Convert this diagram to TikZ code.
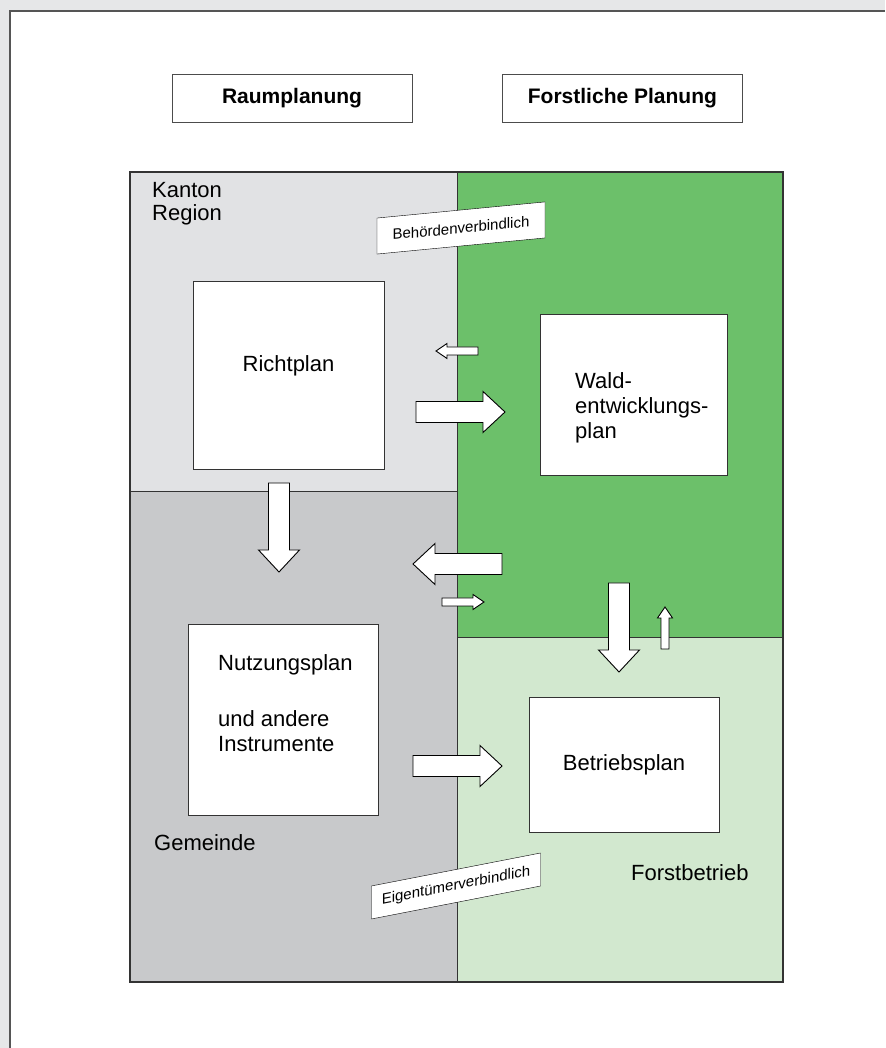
\documentclass[tikz,border=0pt]{standalone}
\usepackage{fontspec}
\setmainfont{Liberation Sans}
\usetikzlibrary{positioning}
\definecolor{cframe}{RGB}{230,231,232}
\definecolor{cline}{RGB}{85,85,85}
\definecolor{ckanton}{RGB}{225,226,228}
\definecolor{cgemeinde}{RGB}{200,201,203}
\definecolor{cwald}{RGB}{108,192,106}
\definecolor{cbetrieb}{RGB}{210,232,207}

\begin{document}
\begin{tikzpicture}[x=1pt,y=1pt,
  title/.style={draw=black!70,fill=white,minimum width=240pt,minimum height=48pt,font=\fontsize{21}{25}\selectfont\bfseries},
  plan/.style={draw=black!80,fill=white,inner sep=0pt},
  txt/.style={font=\fontsize{22}{25}\selectfont,align=left,inner sep=0pt},
  tag/.style={draw=black,fill=white,font=\fontsize{15}{18}\selectfont,inner sep=0pt},
  blk/.style={draw=black,fill=white,line width=0.9pt,line join=miter},
  pics/bigarrow/.style={code={\draw[blk] (0,-10.5) -- (67,-10.5) -- (67,-20.5) -- (89,0) -- (67,20.5) -- (67,10.5) -- (0,10.5) -- cycle;}},
  pics/smallarrow/.style={code={\draw[blk] (0,-4) -- (31,-4) -- (31,-7.5) -- (42,0) -- (31,7.5) -- (31,4) -- (0,4) -- cycle;}},
]
\useasboundingbox (0,0) rectangle (885,1048);
% frame
\fill[cframe] (0,0) rectangle (885,1048);
\fill[white] (10,0) rectangle (885,1037);
\draw[cline,line width=2pt] (10,0) -- (10,1037) -- (885,1037);

% headings
\node[title] (raum) at (292,950) {Raumplanung};
\node[title,right=90pt of raum] (forst) {Forstliche Planung};

% quadrants
\fill[ckanton] (130,557) rectangle (457,876);
\fill[cgemeinde] (130,66) rectangle (457,557);
\fill[cwald] (457,411) rectangle (783,876);
\fill[cbetrieb] (457,66) rectangle (783,411);
\draw[black!80,line width=1.2pt] (130,66) rectangle (783,876);
\draw[black!80] (457,66) -- (457,876) (130,557) -- (457,557) (457,411) -- (783,411);

\node[txt,font=\fontsize{22}{23}\selectfont,anchor=north west] (kanton) at (152,866) {Kanton\\Region};
\node[txt,anchor=west] (gemeinde) at (154,205) {Gemeinde};
\node[txt,anchor=west] (forstbetrieb) at (631,175) {Forstbetrieb};

% plans
\node[plan,minimum width=191pt,minimum height=188pt] (richt) at (288.5,673) {};
\node[txt] (richtlbl) at ([yshift=9pt]richt.center) {Richtplan};
\node[plan,minimum width=187pt,minimum height=161pt] (wep) at (633.5,653.5) {};
\node[txt,anchor=west] (weplbl) at (575,640) {Wald-\\entwicklungs-\\plan};
\node[plan,minimum width=190pt,minimum height=191pt] (nutz) at (283,328.5) {};
\node[txt,anchor=west] (nutzlbl) at (218,345) {Nutzungsplan\\[31pt]und andere\\Instrumente};
\node[plan,minimum width=190pt,minimum height=135pt,font=\fontsize{22}{25}\selectfont] (betrieb) at (624,283.5) {Betriebsplan};

% bindings
\node[tag,minimum width=168pt,minimum height=36pt,yslant=0.096] (behoerde) at (461,820) {Behördenverbindlich};
\node[tag,minimum width=169pt,minimum height=33pt,yslant=0.195] (eigen) at (456,162) {Eigentümerverbindlich};

% arrows
\pic[rotate=180] (a1) at (478,697) {smallarrow};
\pic (a2) at (416,636) {bigarrow};
\pic[rotate=180] (a3) at (502,484) {bigarrow};
\pic (a4) at (442,446) {smallarrow};
\pic[rotate=-90] (a5) at (279,565) {bigarrow};
\pic[rotate=-90] (a6) at (619,465) {bigarrow};
\pic[rotate=90] (a7) at (665,399) {smallarrow};
\pic (a8) at (413,282) {bigarrow};
\end{tikzpicture}
\end{document}
